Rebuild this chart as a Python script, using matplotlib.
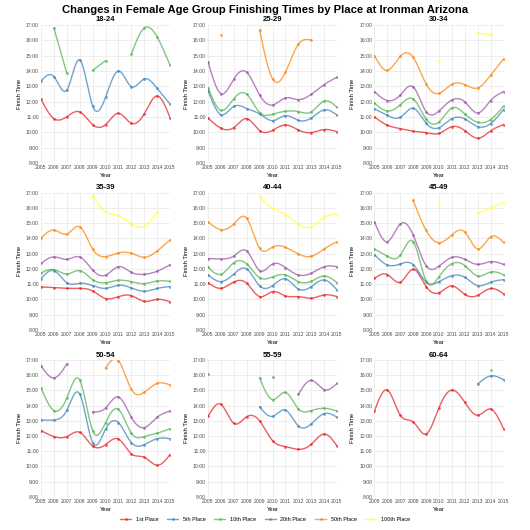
import numpy as np
import matplotlib.pyplot as plt
from matplotlib.lines import Line2D

plt.rcParams['font.family'] = ['Liberation Sans', 'DejaVu Sans']

years = list(range(2005, 2016))
places = ['1st Place', '5th Place', '10th Place', '20th Place', '50th Place', '100th Place']
colors = ['#E41A1C', '#377EB8', '#4DAF4A', '#984EA3', '#FF7F00', '#FFFF33']
age_groups = ['18-24', '25-29', '30-34', '35-39', '40-44', '45-49', '50-54', '55-59', '60-64']

N = None
# finish time in hours, 2005..2015, one row per place: 1st, 5th, 10th, 20th, 50th, 100th
ag_18_24 = [
    [12.15, 10.89, 11.02, 11.33, 10.50, 10.50, 11.24, 10.59, 11.20, 12.37, 10.96],
    [13.35, 13.63, 12.76, 14.72, 11.72, 12.28, 14.00, 12.98, 13.48, 12.87, 11.85],
    [N, 16.80, 13.85, N, 14.04, 14.67, N, 15.09, 16.80, 16.22, 14.37],
    [N] * 11, [N] * 11, [N] * 11,
]
ag_25_29 = [
    [10.93, 10.27, 10.31, 10.89, 10.11, 10.13, 10.48, 10.15, 9.98, 10.18, 10.04],
    [12.72, 11.15, 11.69, 11.55, 11.20, 10.76, 11.09, 10.78, 10.93, 11.46, 11.13],
    [12.91, 11.43, 12.20, 12.48, 11.29, 11.18, 11.37, 11.35, 11.33, 12.04, 11.62],
    [14.59, 12.52, 13.48, 13.91, 12.43, 11.78, 12.24, 12.13, 12.48, 13.11, 13.59],
    [N, 16.35, N, N, 16.67, 13.48, 13.93, 15.74, 16.02, N, N],
    [N] * 11,
]
ag_30_34 = [
    [11.00, 10.46, 10.24, 10.07, 9.98, 9.93, 10.37, 10.11, 9.61, 10.09, 10.50],
    [11.52, 11.11, 10.98, 11.57, 10.59, 10.30, 10.89, 10.87, 10.37, 10.57, 11.48],
    [11.91, 11.39, 11.80, 12.17, 10.87, 10.67, 11.59, 11.20, 10.65, 10.83, 11.70],
    [12.65, 12.07, 12.43, 12.96, 11.35, 11.39, 12.11, 11.98, 11.26, 12.07, 12.65],
    [14.98, 14.04, 14.96, 14.89, 13.15, 12.54, 13.13, 13.11, 12.89, 13.72, 14.78],
    [N, N, N, N, N, 14.67, N, N, 16.48, 16.35, N],
]
ag_35_39 = [
    [10.82, 10.78, 10.73, 10.73, 10.56, 10.06, 10.19, 10.25, 9.88, 10.01, 9.84],
    [11.37, 11.89, 11.10, 11.06, 10.91, 10.73, 10.93, 10.76, 10.54, 10.72, 10.85],
    [11.74, 11.96, 11.67, 11.89, 11.30, 11.10, 11.26, 11.17, 11.04, 11.21, 11.19],
    [12.37, 12.79, 12.63, 12.79, 11.93, 11.59, 12.15, 11.78, 11.65, 11.85, 12.28],
    [14.03, 14.55, 14.29, 14.77, 13.31, 12.81, 13.05, 13.03, 12.76, 13.18, 13.90],
    [N, N, N, N, 16.78, 15.73, 15.49, 14.95, 14.79, 15.71, N],
]
ag_40_44 = [
    [11.10, 10.73, 11.15, 11.06, 10.19, 10.52, 10.23, 10.19, 10.08, 10.30, 10.19],
    [11.61, 11.17, 11.67, 12.00, 10.89, 10.91, 11.35, 10.69, 10.84, 11.28, 10.62],
    [12.13, 11.65, 12.41, 12.33, 11.43, 11.48, 11.61, 11.17, 11.19, 11.54, 11.10],
    [12.68, 12.66, 12.85, 13.18, 11.89, 12.33, 12.09, 11.61, 11.72, 12.15, 12.15],
    [15.08, 14.58, 14.95, 15.32, 13.35, 13.44, 13.42, 12.98, 12.83, 13.31, 13.79],
    [N, N, N, N, 16.72, 15.97, 15.56, 14.93, 14.75, 15.38, 15.60],
]
ag_45_49 = [
    [11.39, 11.63, 11.13, 11.98, 10.85, 10.44, 10.89, 10.33, 10.27, 10.72, 10.37],
    [12.94, 12.26, 12.33, 12.28, 11.15, 11.17, 11.56, 11.45, 10.91, 11.13, 11.30],
    [13.31, 12.83, 12.90, 13.79, 11.21, 11.50, 12.35, 12.22, 11.54, 11.80, 11.63],
    [15.08, 13.79, 14.95, 14.23, 12.22, 12.19, 12.76, 12.63, 12.30, 12.48, 12.30],
    [N, N, N, 16.50, 14.53, 13.72, 14.24, 14.42, 13.31, 14.11, 13.74],
    [N, N, N, N, N, 16.37, N, N, 15.65, 16.00, 16.35],
]
ag_50_54 = [
    [12.35, 11.96, 11.96, 12.24, 11.34, 11.43, 11.80, 10.82, 10.60, 10.07, 10.77],
    [13.05, 13.05, 13.69, 14.76, 11.56, 12.44, 12.88, 11.56, 11.43, 11.82, 11.82],
    [15.16, 13.67, 14.50, 15.68, 12.35, 12.88, 13.75, 12.18, 11.96, 12.18, 12.48],
    [16.61, 15.82, 16.74, N, 13.58, 13.84, 14.57, 13.23, 12.55, 13.23, 13.64],
    [N, N, N, N, N, 16.47, 16.96, 15.07, 14.87, 15.46, 15.36],
    [N] * 11,
]
ag_55_59 = [
    [13.29, 14.08, 12.83, 13.27, 12.99, 11.69, 11.30, 11.12, 11.45, 12.13, 11.34],
    [16.08, N, N, N, 13.91, 13.29, 13.71, 12.66, 12.79, 13.47, 13.23],
    [N, N, N, N, 15.82, 14.39, 14.87, 13.78, 13.67, 13.82, 13.64],
    [N, N, N, N, N, 15.90, N, 14.74, 15.66, 15.05, 15.46],
    [N] * 11, [N] * 11,
]
ag_60_64 = [
    [13.64, 15.02, 13.36, 12.92, 12.13, 13.86, 15.02, 14.21, 13.36, 13.77, 12.48],
    [N, N, N, N, N, N, N, N, 15.42, 15.95, 15.71],
    [N, N, N, N, N, N, N, N, N, 16.36, N],
    [N] * 11, [N] * 11, [N] * 11,
]
panels = [ag_18_24, ag_25_29, ag_30_34, ag_35_39, ag_40_44,
          ag_45_49, ag_50_54, ag_55_59, ag_60_64]


def natural_spline(x, y, n=150):
    x = np.asarray(x, float)
    y = np.asarray(y, float)
    k = len(x)
    h = np.diff(x)
    A = np.zeros((k, k))
    r = np.zeros(k)
    A[0, 0] = A[-1, -1] = 1
    for i in range(1, k - 1):
        A[i, i - 1] = h[i - 1]
        A[i, i] = 2 * (h[i - 1] + h[i])
        A[i, i + 1] = h[i]
        r[i] = 3 * ((y[i + 1] - y[i]) / h[i] - (y[i] - y[i - 1]) / h[i - 1])
    c = np.linalg.solve(A, r)
    b = (y[1:] - y[:-1]) / h - h * (2 * c[:-1] + c[1:]) / 3
    d = (c[1:] - c[:-1]) / (3 * h)
    xs = np.linspace(x[0], x[-1], n)
    idx = np.clip(np.searchsorted(x, xs, side='right') - 1, 0, k - 2)
    dx = xs - x[idx]
    return xs, y[idx] + b[idx] * dx + c[idx] * dx ** 2 + d[idx] * dx ** 3


def segments(vals):
    seg = []
    for yr, v in zip(years, vals):
        if v is None:
            if seg:
                yield seg
            seg = []
        else:
            seg.append((yr, v))
    if seg:
        yield seg


fig = plt.figure(figsize=(5.3, 5.3), dpi=100)
fig.text(0.5, 0.981, 'Changes in Female Age Group Finishing Times by Place at Ironman Arizona',
         ha='center', va='center', fontsize=8.1, fontweight='bold')

lefts = [0.0774, 0.3925, 0.7066]
bottoms = [0.6925, 0.3774, 0.0628]
heights = [0.2604, 0.259, 0.258]
tick_color = '#4d4d4d'

for p, (name, data) in enumerate(zip(age_groups, panels)):
    r, c = divmod(p, 3)
    ax = fig.add_axes([lefts[c], bottoms[r], 0.2434, heights[r]])
    ax.set_xlim(2005, 2015)
    ax.set_ylim(8, 17)
    ax.set_xticks(years)
    ax.set_xticklabels([str(y) for y in years])
    ax.set_yticks(range(8, 18))
    ax.set_yticklabels([f'{h}:00' for h in range(8, 18)])
    ax.tick_params(labelsize=3.7, colors=tick_color, length=0, pad=1.5)
    ax.grid(True, color='#ebebeb', linewidth=0.6)
    ax.set_axisbelow(True)
    for s in ax.spines.values():
        s.set_visible(False)
    ax.set_title(name, fontsize=5.5, fontweight='bold', pad=2.5)
    ax.set_xlabel('Year', fontsize=4.2, labelpad=2)
    ax.set_ylabel('Finish Time', fontsize=4.2, labelpad=3)

    for vals, col in zip(data, colors):
        for seg in segments(vals):
            sx = [s[0] for s in seg]
            sy = [s[1] for s in seg]
            if len(seg) >= 3:
                lx, ly = natural_spline(sx, sy)
                ax.plot(lx, ly, color=col, alpha=0.7, lw=1.0)
            elif len(seg) == 2:
                ax.plot(sx, sy, color=col, alpha=0.7, lw=1.0)
            ax.plot(sx, sy, 'o', color=col, alpha=0.7, ms=2, mew=0)

handles = [Line2D([0], [0], color=c, alpha=0.7, lw=1.0, marker='o', ms=2, mew=0)
           for c in colors]
fig.legend(handles, places, loc='center', bbox_to_anchor=(0.5, 0.019), ncol=6,
           frameon=False, fontsize=4, handlelength=2, columnspacing=1.6, handletextpad=0.8)

fig.savefig('out.png', dpi=100)
